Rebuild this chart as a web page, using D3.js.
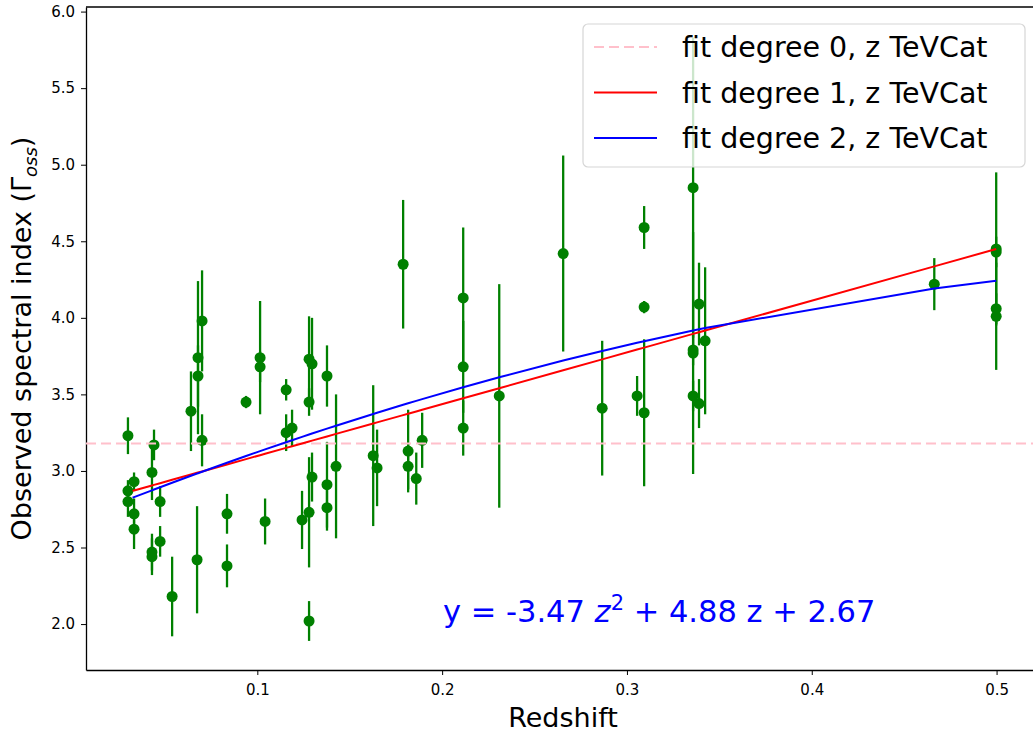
<!DOCTYPE html>
<html>
<head>
<meta charset="utf-8">
<script src="https://cdn.jsdelivr.net/npm/d3@7"></script>
<style>
  body { margin: 0; background: #fff; }
  svg { font-family: "DejaVu Sans", sans-serif; }
</style>
</head>
<body>
<svg id="chart" width="1033" height="733"></svg>
<script>
// redshift of each source
var redshift = [
  0.0300, 0.0300, 0.0300, 0.0333, 0.0333, 0.0333, 0.0430, 0.0441, 0.0430, 0.0430,
  0.0474, 0.0474, 0.0539, 0.0641, 0.0674, 0.0679, 0.0679, 0.0701, 0.0701, 0.0836,
  0.0836, 0.0939, 0.1015, 0.1015, 0.1042, 0.1156, 0.1156, 0.1188, 0.1242, 0.1280,
  0.1296, 0.1280, 0.1296, 0.1280, 0.1280, 0.1377, 0.1377, 0.1377, 0.1426, 0.1627,
  0.1648, 0.1789, 0.1816, 0.1816, 0.1860, 0.1892, 0.2114, 0.2114, 0.2114, 0.2309,
  0.2655, 0.2866, 0.3055, 0.3093, 0.3093, 0.3093, 0.3358, 0.3358, 0.3358, 0.3358,
  0.3390, 0.3390, 0.3423, 0.4663, 0.4998, 0.4998, 0.4998, 0.4998
]
// observed spectral index
var gamma = [
  3.23, 2.87, 2.80, 2.93, 2.72, 2.62, 2.99, 3.17, 2.47, 2.44,
  2.80, 2.54, 2.18, 3.39, 2.42, 3.74, 3.62, 3.98, 3.20, 2.72,
  2.38, 3.45, 3.74, 3.68, 2.67, 3.53, 3.25, 3.28, 2.68, 3.73,
  3.70, 3.45, 2.96, 2.73, 2.02, 3.62, 2.91, 2.76, 3.03, 3.10,
  3.02, 4.35, 3.13, 3.03, 2.95, 3.20, 4.13, 3.68, 3.28, 3.49,
  4.42, 3.41, 3.49, 4.59, 4.07, 3.38, 4.85, 3.79, 3.77, 3.49,
  4.09, 3.44, 3.85, 4.22, 4.45, 4.43, 4.06, 4.01
]
// error on the index
var gammaErr = [
  0.12, 0.07, 0.10, 0.06, 0.10, 0.13, 0.18, 0.10, 0.12, 0.12,
  0.10, 0.10, 0.26, 0.26, 0.35, 0.50, 0.20, 0.33, 0.17, 0.13,
  0.14, 0.04, 0.37, 0.10, 0.15, 0.07, 0.12, 0.12, 0.19, 0.28,
  0.30, 0.09, 0.16, 0.36, 0.13, 0.20, 0.28, 0.15, 0.47, 0.46,
  0.25, 0.42, 0.27, 0.15, 0.17, 0.18, 0.46, 0.30, 0.18, 0.73,
  0.64, 0.44, 0.13, 0.14, 0.04, 0.48, 0.98, 0.10, 0.79, 0.10,
  0.27, 0.16, 0.48, 0.17, 0.50, 0.10, 0.10, 0.35
]

// polynomial fit coefficients, highest power first
var fit0 = [3.18]
var fit1 = [3.38, 2.76]
var fit2 = [-3.47, 4.88, 2.67]

var xTicks = [0.1, 0.2, 0.3, 0.4, 0.5]
var yTicks = [2.0, 2.5, 3.0, 3.5, 4.0, 4.5, 5.0, 5.5, 6.0]

var legendLabels = ["fit degree 0, z TeVCat", "fit degree 1, z TeVCat", "fit degree 2, z TeVCat"]
var legendColors = ["pink", "red", "blue"]
var legendDash = ["10,5", null, null]

var svg = d3.select("#chart")

var mLeft = 86, mRight = 1040, mTop = 7, mBottom = 670

var x = d3.scaleLinear().domain([0.0073, 0.5235]).range([mLeft, mRight])
var y = d3.scaleLinear().domain([1.70, 6.03]).range([mBottom, mTop])

function poly(c, z) {
  var v = 0
  c.forEach(k => { v = v * z + k })
  return v
}

var pts = redshift.map((z, i) => ({ z: z, g: gamma[i], e: gammaErr[i] }))

// axes
svg.append("g")
  .attr("transform", `translate(0,${mBottom})`)
  .call(d3.axisBottom(x).tickValues(xTicks).tickFormat(d3.format(".1f")).tickSize(5).tickSizeOuter(0))
  .call(g => g.attr("font-size", 15).attr("font-family", null))
  .call(g => g.selectAll("text").attr("dy", "1.1em").attr("fill", "#000"))
  .call(g => g.select(".domain").attr("stroke-width", 1.3))

svg.append("g")
  .attr("transform", `translate(${mLeft},0)`)
  .call(d3.axisLeft(y).tickValues(yTicks).tickFormat(d3.format(".1f")).tickSize(5).tickSizeOuter(0))
  .call(g => g.attr("font-size", 15).attr("font-family", null))
  .call(g => g.selectAll("text").attr("x", -11).attr("fill", "#000"))
  .call(g => g.select(".domain").attr("stroke-width", 1.3))

svg.append("line")
  .attr("x1", mLeft).attr("x2", mRight)
  .attr("y1", mTop).attr("y2", mTop)
  .attr("stroke", "#000").attr("stroke-width", 1.3)

var plot = svg.append("g")

// error bars
plot.selectAll(".err")
  .data(pts)
  .enter().append("line")
  .attr("class", "err")
  .attr("x1", d => x(d.z)).attr("x2", d => x(d.z))
  .attr("y1", d => y(d.g - d.e)).attr("y2", d => y(d.g + d.e))
  .attr("stroke", "green")
  .attr("stroke-width", 2.3)

plot.selectAll(".pt")
  .data(pts)
  .enter().append("circle")
  .attr("class", "pt")
  .attr("cx", d => x(d.z))
  .attr("cy", d => y(d.g))
  .attr("r", 5.5)
  .attr("fill", "green")

// fit lines
var fitZ = Array.from(new Set(redshift)).filter(z => z > 0.031).sort(d3.ascending)
fitZ.unshift(0.0325)

var line = d3.line().x(d => x(d[0])).y(d => y(d[1]))

plot.append("line")
  .attr("x1", mLeft).attr("x2", mRight)
  .attr("y1", y(fit0[0])).attr("y2", y(fit0[0]))
  .attr("stroke", "pink")
  .attr("stroke-width", 2)
  .attr("stroke-dasharray", "10,5")

plot.append("path")
  .datum(fitZ.map(z => [z, poly(fit1, z)]))
  .attr("d", line)
  .attr("fill", "none")
  .attr("stroke", "red")
  .attr("stroke-width", 2)

plot.append("path")
  .datum(fitZ.map(z => [z, poly(fit2, z)]))
  .attr("d", line)
  .attr("fill", "none")
  .attr("stroke", "blue")
  .attr("stroke-width", 2)

// legend
var lg = svg.append("g").attr("transform", "translate(583,24)")
lg.append("rect")
  .attr("width", 442).attr("height", 143)
  .attr("rx", 5)
  .attr("fill", "#fff").attr("fill-opacity", 0.8)
  .attr("stroke", "#d6d6d6").attr("stroke-width", 1.2)

legendLabels.forEach((t, i) => {
  var yy = 23 + i * 45.5
  lg.append("line")
    .attr("x1", 11).attr("x2", 74)
    .attr("y1", yy).attr("y2", yy)
    .attr("stroke", legendColors[i])
    .attr("stroke-width", 2)
    .attr("stroke-dasharray", legendDash[i])
  lg.append("text")
    .attr("x", 99).attr("y", yy + 10)
    .attr("font-size", 28.5)
    .text(t)
})

// fit equation
var eq = svg.append("text")
  .attr("x", 443).attr("y", 622)
  .attr("font-size", 30.5)
  .attr("fill", "blue")
eq.append("tspan").text("y = -3.47 ")
eq.append("tspan").attr("font-style", "italic").text("z")
eq.append("tspan").attr("font-size", 21).attr("dy", -12).text("2")
eq.append("tspan").attr("dy", 12).text(" + 4.88 z + 2.67")

// axis labels
svg.append("text")
  .attr("x", (mLeft + mRight) / 2)
  .attr("y", 727)
  .attr("text-anchor", "middle")
  .attr("font-size", 27)
  .text("Redshift")

var yl = svg.append("text")
  .attr("transform", `translate(31,${(mTop + mBottom) / 2}) rotate(-90)`)
  .attr("text-anchor", "middle")
  .attr("font-size", 27)
yl.append("tspan").text("Observed spectral index (Γ")
yl.append("tspan").attr("font-size", 18).attr("font-style", "italic").attr("dy", 6).text("oss")
yl.append("tspan").attr("dy", -6).text(")")
</script>
</body>
</html>
